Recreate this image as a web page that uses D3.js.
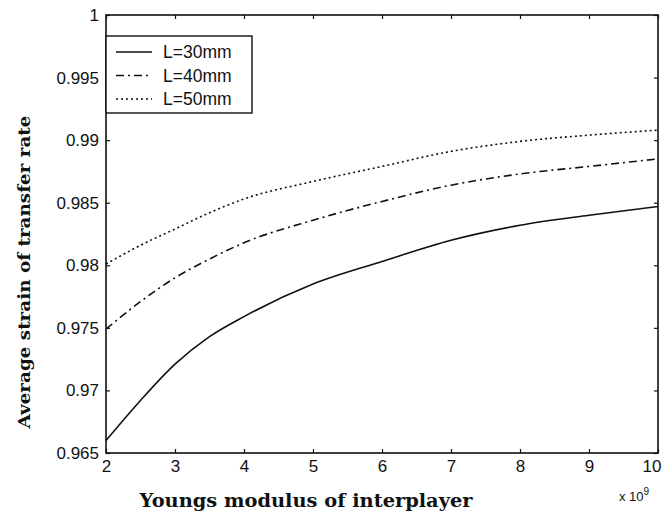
<!DOCTYPE html>
<html><head><meta charset="utf-8">
<script src="https://cdn.jsdelivr.net/npm/d3@7"></script>
<style>body{margin:0;background:#fff}svg{display:block}</style>
</head><body>
<script>
const xValues = [2, 2.5, 3, 3.5, 4, 5, 6, 7, 8, 9, 10];
const seriesNames = ["L=30mm", "L=40mm", "L=50mm"];
const L30 = [0.9660, 0.9692, 0.9721, 0.9743, 0.9759, 0.9785, 0.9803, 0.9820, 0.9832, 0.9840, 0.9847];
const L40 = [0.9749, 0.9771, 0.9790, 0.9805, 0.9818, 0.9836, 0.9851, 0.9864, 0.9873, 0.9879, 0.9885];
const L50 = [0.9801, 0.9816, 0.9829, 0.9842, 0.9853, 0.9867, 0.9879, 0.9891, 0.9899, 0.9904, 0.9908];
const xTicks = [2, 3, 4, 5, 6, 7, 8, 9, 10];
const yTicks = [0.965, 0.97, 0.975, 0.98, 0.985, 0.99, 0.995, 1];
const yTickLabels = ["0.965", "0.97", "0.975", "0.98", "0.985", "0.99", "0.995", "1"];
const dashes = [null, "8,4,2,4", "2,3"];

const W = 662, H = 517;
const m = {l: 106, r: 658, t: 15, b: 453};
const svg = d3.select("body").append("svg").attr("width", W).attr("height", H);
const x = d3.scaleLinear().domain([2, 10]).range([m.l, m.r]);
const y = d3.scaleLinear().domain([0.965, 1]).range([m.b, m.t]);
const tickFont = "'Liberation Sans', Arial, sans-serif";
const serif = "'DejaVu Serif', 'Liberation Serif', serif";

// frame
svg.append("rect").attr("x", m.l).attr("y", m.t).attr("width", m.r - m.l).attr("height", m.b - m.t)
  .attr("fill", "none").attr("stroke", "#111").attr("stroke-width", 1.6);

// axes (ticks inward)
const ax = (g, axis) => { g.call(axis); g.select(".domain").remove(); g.selectAll("line").attr("stroke", "#111").attr("stroke-width", 1.2); };
svg.append("g").attr("transform", `translate(0,${m.b})`)
  .call(g => ax(g, d3.axisBottom(x).tickValues(xTicks).tickSize(-4).tickPadding(7).tickFormat(d3.format("d"))))
  .selectAll("text").attr("font-family", tickFont).attr("font-size", 17).attr("fill", "#111")
  .attr("text-anchor", d => d === 10 ? "end" : "middle").attr("dx", d => d === 10 ? 3 : 0);
svg.append("g").attr("transform", `translate(0,${m.t})`)
  .call(g => ax(g, d3.axisTop(x).tickValues(xTicks).tickSize(-4).tickFormat("")));
svg.append("g").attr("transform", `translate(${m.l},0)`)
  .call(g => ax(g, d3.axisLeft(y).tickValues(yTicks).tickSize(-4).tickPadding(7).tickFormat((d, i) => yTickLabels[i])))
  .selectAll("text").attr("font-family", tickFont).attr("font-size", 17).attr("fill", "#111");
svg.append("g").attr("transform", `translate(${m.r},0)`)
  .call(g => ax(g, d3.axisRight(y).tickValues(yTicks).tickSize(-4).tickFormat("")));

// lines
const line = d3.line().x((d, i) => x(xValues[i])).y(d => y(d)).curve(d3.curveMonotoneX);
[L30, L40, L50].forEach((s, k) => {
  svg.append("path").datum(s).attr("d", line).attr("fill", "none").attr("stroke", "#111")
    .attr("stroke-width", 1.6).attr("stroke-dasharray", dashes[k]);
});

// legend
const lg = svg.append("g");
lg.append("rect").attr("x", m.l).attr("y", 36).attr("width", 146).attr("height", 77)
  .attr("fill", "#fff").attr("stroke", "#111").attr("stroke-width", 1.4);
seriesNames.forEach((n, k) => {
  const yy = 52 + k * 23.5;
  lg.append("line").attr("x1", 116).attr("x2", 152).attr("y1", yy).attr("y2", yy)
    .attr("stroke", "#111").attr("stroke-width", 1.6).attr("stroke-dasharray", dashes[k]);
  lg.append("text").attr("x", 163).attr("y", yy + 6).text(n)
    .attr("font-family", tickFont).attr("font-size", 17.5).attr("fill", "#111");
});

// exponent
const ex = svg.append("text").attr("x", 619).attr("y", 501).attr("font-family", tickFont).attr("font-size", 13).attr("fill", "#111");
ex.append("tspan").text("x 10");
ex.append("tspan").attr("dy", -6).attr("font-size", 10).text("9");

// titles
svg.append("text").attr("x", 306).attr("y", 507).attr("text-anchor", "middle")
  .attr("font-family", serif).attr("font-weight", "bold").attr("font-size", 18)
  .attr("textLength", 333).attr("lengthAdjust", "spacingAndGlyphs")
  .attr("fill", "#111").text("Youngs modulus of interplayer");
svg.append("text").attr("transform", "translate(30,272) rotate(-90)").attr("text-anchor", "middle")
  .attr("font-family", serif).attr("font-weight", "bold").attr("font-size", 17)
  .attr("textLength", 313).attr("lengthAdjust", "spacingAndGlyphs")
  .attr("fill", "#111").text("Average strain of transfer rate");
</script>
</body></html>
